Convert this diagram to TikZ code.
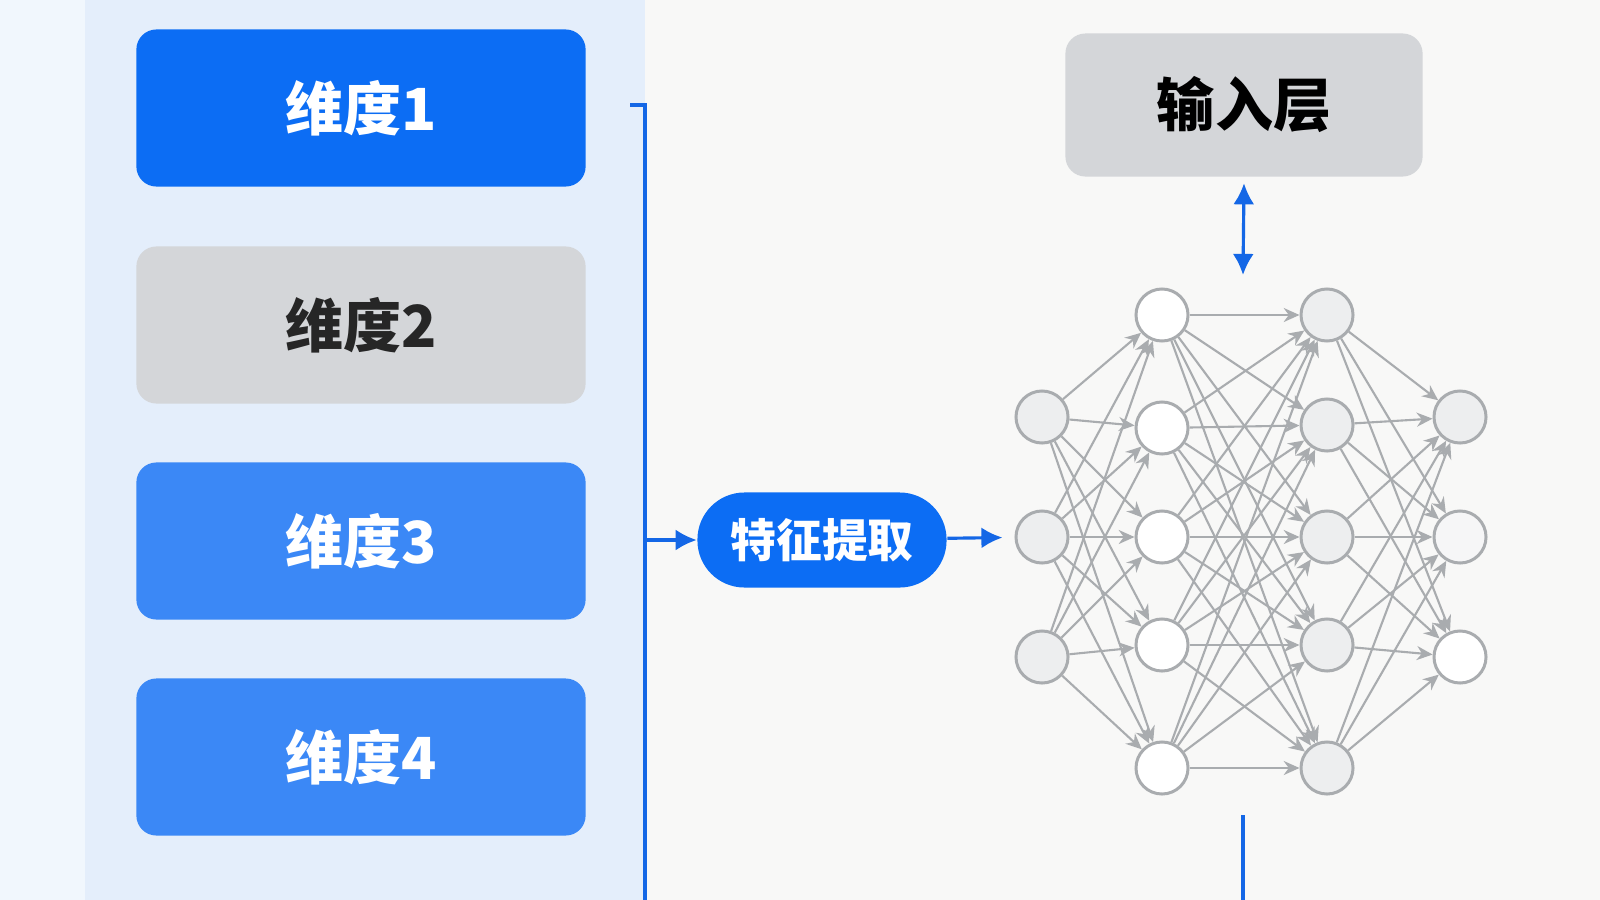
\documentclass[tikz,border=0pt]{standalone}
\usepackage{fontspec}
\setmainfont{Noto Sans CJK SC}[BoldFont={Noto Sans CJK SC Black}]
\usetikzlibrary{arrows.meta,positioning}
\definecolor{dimblue}{HTML}{0C6DF4}
\definecolor{dimblueb}{HTML}{3B88F6}
\definecolor{dimgray}{HTML}{D4D6D9}
\definecolor{panelblue}{HTML}{E4EEFB}
\definecolor{pageback}{HTML}{F8F8F7}
\definecolor{linkblue}{HTML}{1467E6}
\definecolor{neurgray}{HTML}{A9ACAF}
\definecolor{neurfill}{HTML}{EDEEEF}
\begin{document}
\begin{tikzpicture}[x=0.01cm, y=-0.01cm,
    dimbox/.style={rounded corners=0.2cm, minimum width=4.49cm, minimum height=1.57cm,
      font=\fontsize{16.5}{20}\selectfont\bfseries},
    pill/.style={rounded corners=0.47cm, minimum width=2.49cm, minimum height=0.95cm,
      fill=dimblue, text=white, font=\fontsize{13}{16}\selectfont\bfseries},
    neuron/.style={circle, draw=neurgray, line width=0.85pt, minimum size=0.52cm, inner sep=0pt},
    edge/.style={draw=neurgray, line width=0.6pt, -{Stealth[length=4.5pt,width=4pt]}},
    link/.style={draw=linkblue, line width=0.9pt},
    bluetip/.tip={Latex[length=6pt,width=6pt]}]
    \useasboundingbox (0,0) rectangle (1600,900);
    % Background
    \fill[pageback] (0,0) rectangle (1600,900);
    \fill[panelblue!50] (0,0) rectangle (85,900);
    \fill[panelblue] (85,0) rectangle (645,900);
    % Dimensions
    \node[dimbox, fill=dimblue, text=white] (d1) at (361,108) {维度1};
    \node[dimbox, fill=dimgray, text=black!85] (d2) at (361,325) {维度2};
    \node[dimbox, fill=dimblueb, text=white] (d3) at (361,541) {维度3};
    \node[dimbox, fill=dimblueb, text=white] (d4) at (361,757) {维度4};
    % Bracket
    \coordinate (brk1) at (630,105);
    \coordinate (brk2) at (645,105);
    \coordinate (brk3) at (645,900);
    \coordinate (brkmid) at (645,540);
    \draw[link] (brk1) -- (brk2) -- (brk3);
    % Feature extraction
    \node[pill] (feat) at (822,540) {特征提取};
    \draw[link, -bluetip] (brkmid) -- (feat.west);
    % Input layer
    \node[dimbox, minimum width=3.57cm, minimum height=1.43cm, fill=dimgray, text=black] (inlayer) at (1244,105) {输入层};
    % Neurons
    \foreach \i/\y in {1/417,2/537,3/657}
      \node[neuron, fill=neurfill] (a\i) at (1042,\y) {};
    \foreach \i/\y in {1/315,2/428,3/537,4/645,5/768}
      \node[neuron, fill=white] (b\i) at (1162,\y) {};
    \foreach \i/\y in {1/315,2/425,3/537,4/645,5/768}
      \node[neuron, fill=neurfill] (c\i) at (1327,\y) {};
    \node[neuron, fill=neurfill] (o1) at (1460,417) {};
    \node[neuron, fill=neurfill!50] (o2) at (1460,537) {};
    \node[neuron, fill=white] (o3) at (1460,657) {};
    % Connections
    \foreach \i in {1,...,3}
      \foreach \j in {1,...,5}
        \draw[edge] (a\i) -- (b\j);
    \foreach \i in {1,...,5}
      \foreach \j in {1,...,5}
        \draw[edge] (b\i) -- (c\j);
    \foreach \i in {1,...,5}
      \foreach \j in {1,...,3}
        \draw[edge] (c\i) -- (o\j);
    % Links to the network
    \draw[link, -bluetip, shorten >=0.12cm] (feat) -- (a2);
    \coordinate (nettop) at (1243,275);
    \coordinate (netbot) at (1243,815);
    \coordinate (pagebot) at (1243,900);
    \draw[link, bluetip-bluetip] ([yshift=-0.06cm]inlayer.south) -- (nettop);
    \draw[link] (netbot) -- (pagebot);
\end{tikzpicture}
\end{document}
